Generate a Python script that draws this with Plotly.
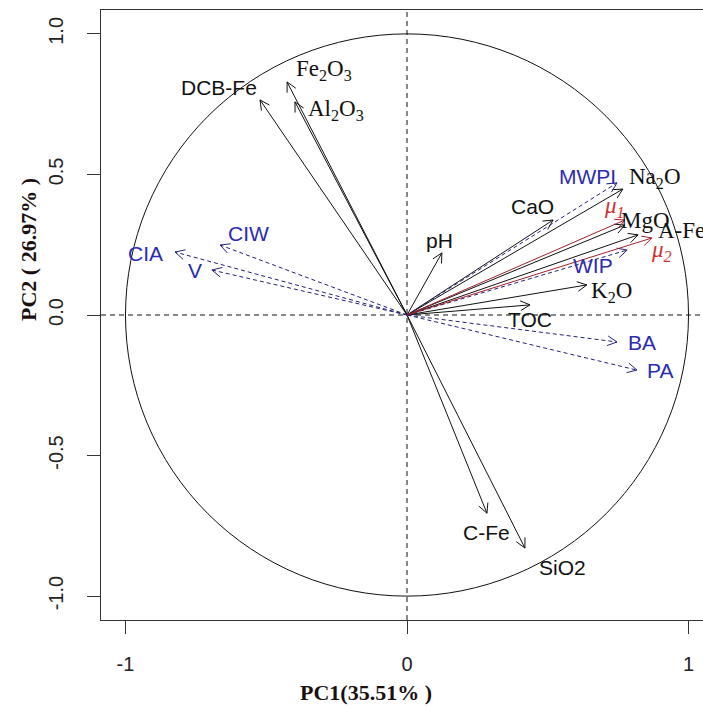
import numpy as np
import plotly.graph_objects as go

# ---------------- data (loadings) ----------------
black_vars = ["DCB-Fe", "Fe2O3", "Al2O3", "pH", "CaO", "Na2O", "MgO", "A-Fe", "K2O", "TOC", "C-Fe", "SiO2"]
black_pc1 = [-0.522, -0.426, -0.398, 0.124, 0.519, 0.767, 0.774, 0.821, 0.639, 0.437, 0.284, 0.419]
black_pc2 = [0.765, 0.829, 0.758, 0.221, 0.338, 0.448, 0.320, 0.285, 0.107, 0.036, -0.705, -0.829]

blue_vars = ["MWPI", "CIA", "CIW", "V", "WIP", "BA", "PA"]
blue_pc1 = [0.746, -0.824, -0.664, -0.693, 0.782, 0.746, 0.817]
blue_pc2 = [0.470, 0.224, 0.249, 0.160, 0.231, -0.096, -0.196]

red_vars = ["μ1", "μ2"]
red_pc1 = [0.774, 0.870]
red_pc2 = [0.338, 0.274]

x_ticks = [-1, 0, 1]
x_ticktext = ["-1", "0", "1"]
y_ticks = [-1.0, -0.5, 0.0, 0.5, 1.0]
y_ticktext = ["-1.0", "-0.5", "0.0", "0.5", "1.0"]

x_title = "PC1(35.51% )"
y_title = "PC2 ( 26.97% )"

# ---------------- styling ----------------
SANS = "Liberation Sans, Arial, sans-serif"
SERIF = "Liberation Serif, Times New Roman, serif"
BLACK = "#111111"
BLUE_LINE = "#22227a"
BLUE_TEXT = "#2b2bb0"
RED_LINE = "#a3202c"
RED_TEXT = "#d0302f"

display = {
    "Fe2O3": "Fe<sub>2</sub>O<sub>3</sub>",
    "Al2O3": "Al<sub>2</sub>O<sub>3</sub>",
    "Na2O": "Na<sub>2</sub>O",
    "K2O": "K<sub>2</sub>O",
    "μ1": "<i>μ<sub>1</sub></i>",
    "μ2": "<i>μ<sub>2</sub></i>",
}
serif_labels = {"Fe2O3", "Al2O3", "Na2O", "MgO", "K2O", "A-Fe", "μ1", "μ2"}

# label offsets from arrow tip, in pixels (dx right, dy up)
label_offsets = {
    "DCB-Fe": (-41, 12), "Fe2O3": (37, 12), "Al2O3": (41, -8), "pH": (-2, 12),
    "CaO": (-21, 13), "Na2O": (32, 11), "MgO": (21, 5), "A-Fe": (43, 4),
    "K2O": (25, -7), "TOC": (0, -15), "C-Fe": (0, -19), "SiO2": (38, -19),
    "MWPI": (-30, 6), "CIA": (-30, -1), "CIW": (28, 12), "V": (-17, 0),
    "WIP": (-34, -15), "BA": (25, -1), "PA": (23, 0),
    "μ1": (-10, 13), "μ2": (10, -13),
}

HEAD_LEN = 0.038
HEAD_ANG = np.deg2rad(27)


def arrow_paths(xs, ys):
    lx, ly, hx, hy = [], [], [], []
    for x, y in zip(xs, ys):
        lx += [0, x, None]
        ly += [0, y, None]
        ang = np.arctan2(y, x)
        for s in (1, -1):
            a = ang + np.pi + s * HEAD_ANG
            hx += [x, x + HEAD_LEN * np.cos(a), None]
            hy += [y, y + HEAD_LEN * np.sin(a), None]
    return lx, ly, hx, hy


fig = go.Figure()

groups = [
    (black_pc1, black_pc2, BLACK, "solid"),
    (blue_pc1, blue_pc2, BLUE_LINE, "4px,3px"),
    (red_pc1, red_pc2, RED_LINE, "solid"),
]
for xs, ys, col, dash in groups:
    lx, ly, hx, hy = arrow_paths(xs, ys)
    fig.add_trace(go.Scatter(x=lx, y=ly, mode="lines", line=dict(color=col, width=1, dash=dash),
                             hoverinfo="skip", showlegend=False))
    fig.add_trace(go.Scatter(x=hx, y=hy, mode="lines", line=dict(color=col, width=1),
                             hoverinfo="skip", showlegend=False))

annotations = []
for names, xs, ys, col in [(black_vars, black_pc1, black_pc2, BLACK),
                           (blue_vars, blue_pc1, blue_pc2, BLUE_TEXT),
                           (red_vars, red_pc1, red_pc2, RED_TEXT)]:
    for n, x, y in zip(names, xs, ys):
        dx, dy = label_offsets[n]
        fam = SERIF if n in serif_labels else SANS
        size = 23 if n in serif_labels else 21
        annotations.append(dict(x=x, y=y, xref="x", yref="y", text=display.get(n, n),
                                showarrow=False, xshift=dx, yshift=dy,
                                xanchor="center", yanchor="middle",
                                font=dict(family=fam, size=size, color=col)))

W, H = 703, 708
ML, MR, MT, MB = 101, 0, 10, 88

# axis titles (pixel positions converted to paper coords)
for text, px, py, ang in [(x_title, 366, 692, 0), (y_title, 28, 250, -90)]:
    annotations.append(dict(x=(px - ML) / (W - ML - MR), y=1 - (py - MT) / (H - MT - MB),
                            xref="paper", yref="paper", text="<b>" + text + "</b>",
                            showarrow=False, textangle=ang, xanchor="center", yanchor="middle",
                            font=dict(family=SERIF, size=22, color="#1a1010")))

XR = [-1.087, 1.0515]
YR = [-1.085, 1.085]

shapes = [
    dict(type="circle", xref="x", yref="y", x0=-1, y0=-1, x1=1, y1=1,
         line=dict(color=BLACK, width=1), layer="below"),
    dict(type="line", xref="x", yref="paper", x0=0, x1=0, y0=0, y1=1,
         line=dict(color=BLACK, width=1, dash="5px,4px"), layer="below"),
    dict(type="line", xref="paper", yref="y", x0=0, x1=1, y0=0, y1=0,
         line=dict(color=BLACK, width=1, dash="5px,4px"), layer="below"),
]

fig.update_layout(
    width=W, height=H,
    margin=dict(l=ML, r=MR, t=MT, b=MB, autoexpand=False),
    paper_bgcolor="white", plot_bgcolor="white",
    shapes=shapes, annotations=annotations, showlegend=False,
)
fig.update_xaxes(range=XR, showgrid=False, zeroline=False, showline=True, mirror=True,
                 linecolor="#333", linewidth=1, ticks="outside", ticklen=13, tickcolor="#333",
                 tickvals=x_ticks, ticktext=x_ticktext, ticklabelstandoff=13, automargin=False,
                 tickfont=dict(family=SANS, size=20, color="#222"))
fig.update_yaxes(range=YR, showgrid=False, zeroline=False, showline=True, mirror=False,
                 linecolor="#333", linewidth=1, ticks="outside", ticklen=13, tickcolor="#333",
                 tickvals=y_ticks, ticktext=y_ticktext, tickangle=-90, ticklabelstandoff=16,
                 automargin=False, tickfont=dict(family=SANS, size=20, color="#222"))

fig.write_html("out.html", config={"displayModeBar": False},
               post_script="document.body.style.margin='0';document.body.style.overflow='hidden';")
